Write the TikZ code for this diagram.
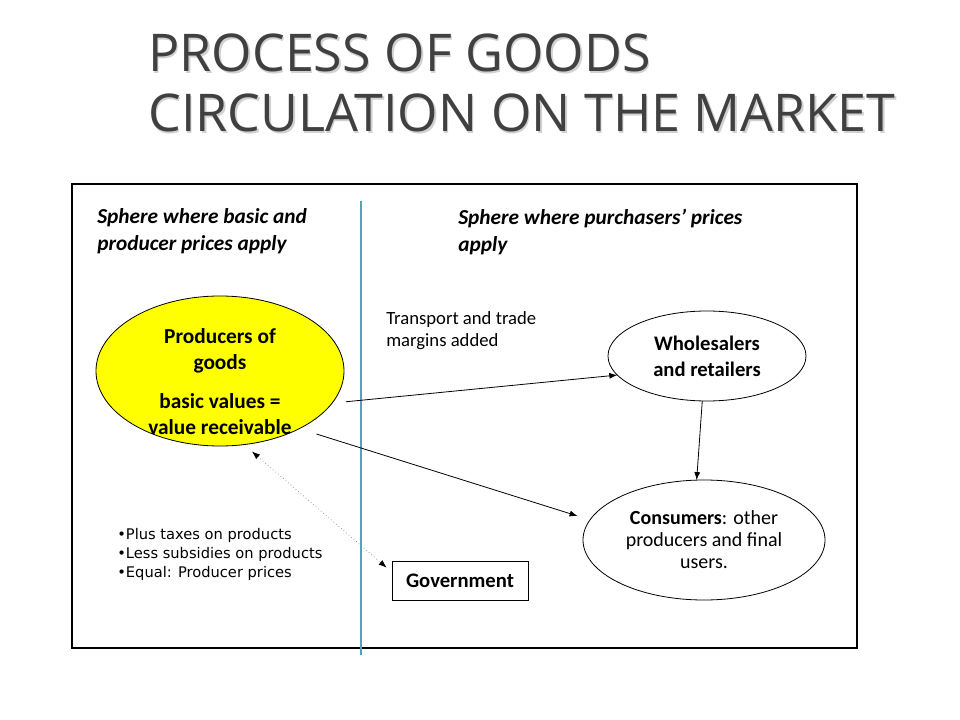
\documentclass[tikz,border=0pt]{standalone}
\usepackage{fontspec}
\setmainfont{Carlito}
\newfontfamily\titlefont{Open Sans}
\newfontfamily\bulletfont{DejaVu Sans}
\usetikzlibrary{arrows.meta,shapes.geometric,calc}
\definecolor{titlegray}{RGB}{64,64,64}
\definecolor{divteal}{RGB}{80,165,180}
\definecolor{prodyellow}{RGB}{255,255,0}
\begin{document}
\begin{tikzpicture}[x=0.75pt,y=-0.75pt,
  ell/.style={ellipse,draw=black,line width=0.6pt,inner sep=0pt,outer sep=0pt,align=center},
  arr/.style={-{Latex[length=6pt,width=4.5pt]},line width=0.6pt,black},
  dotarr/.style={{Latex[length=6pt,width=4.5pt,color=black]}-{Latex[length=6pt,width=4.5pt,color=black]},line width=0.5pt,draw=gray,dotted},
  titletext/.style={anchor=base west,inner sep=0pt,font=\titlefont\fontsize{39}{45}\selectfont},
  sphere/.style={anchor=west,inner sep=0pt,align=left,font=\bfseries\itshape\fontsize{16}{20.25}\selectfont},
  plain/.style={inner sep=0pt,align=left,font=\fontsize{14}{16.5}\selectfont}]
\useasboundingbox (0,0) rectangle (960,720);
\fill[white] (0,0) rectangle (960,720);
% title with shadow
\node[titletext,text=black!18] (t1s) at (149.5,73.5) {PROCESS OF GOODS};
\node[titletext,text=black!18] (t2s) at (149.5,133.5) {CIRCULATION ON THE MARKET};
\node[titletext,text=titlegray] (t1) at (148,72) {PROCESS OF GOODS};
\node[titletext,text=titlegray] (t2) at (148,132) {CIRCULATION ON THE MARKET};
% frame
\draw[line width=0.8pt] (72,184) rectangle (857,648);
\draw[divteal,line width=0.8pt] (361,201) -- (361,655);
% sphere labels
\node[sphere] (sl) at (97,231.5) {Sphere where basic and\\producer prices apply};
\node[sphere] (sr) at (458,231.5) {Sphere where purchasers’ prices\\apply};
% nodes
\node[ell,fill=prodyellow,minimum width=186pt,minimum height=112.5pt] (prod) at (220,371) {};
\node[align=center,inner sep=0pt,font=\bfseries\fontsize{16}{19.5}\selectfont] (prodt) at (220,382) {Producers of\\goods\\[9.75pt]basic values =\\value receivable};
\node[ell,minimum width=148.5pt,minimum height=67.5pt,font=\bfseries\fontsize{15.5}{19.5}\selectfont] (whole) at (707,356) {Wholesalers\\and retailers};
\node[ell,minimum width=181.5pt,minimum height=90pt,font=\fontsize{15}{16.5}\selectfont] (cons) at (704,540) {\textbf{Consumers}: other\\producers and final\\users.};
\node[draw=black,line width=0.6pt,minimum width=102pt,minimum height=29.25pt,inner sep=0pt,font=\bfseries\fontsize{15.5}{16}\selectfont] (gov) at (460,580.5) {Government};
\node[plain,anchor=west] (trans) at (386,331) {Transport and trade\\margins added};
\node[inner sep=0pt,anchor=west,align=left,font=\bulletfont\fontsize{11}{14.25}\selectfont] (bul) at (117,554) {•Plus taxes on products\\•Less subsidies on products\\•Equal: Producer prices};
% connectors
\draw[arr,shorten <=10.5pt] (prod.-16.5) -- (whole.192.5);
\draw[arr,shorten <=13.5pt,shorten >=9.75pt] (prod.-36.6) -- (cons.170.2);
\draw[arr] (whole.-96) -- (cons.97.6);
\draw[dotarr,shorten <=8pt] (prod.-72) -- ([shift={(-5,7)}]gov.north west);
\end{tikzpicture}
\end{document}
